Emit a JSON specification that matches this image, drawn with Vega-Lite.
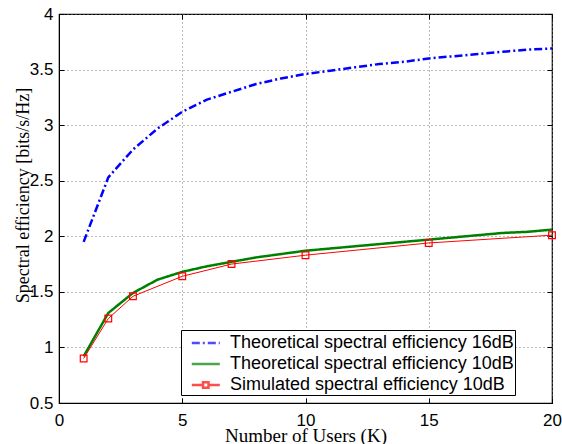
{
  "$schema": "https://vega.github.io/schema/vega-lite/v6.json",
  "width": 493,
  "height": 389,
  "autosize": "none",
  "padding": {"left": 59, "top": 14, "right": 10, "bottom": 41},
  "background": "white",
  "config": {
    "view": {"stroke": "black", "strokeWidth": 1.2},
    "axis": {
      "labelFont": "Liberation Sans",
      "labelFontSize": 17,
      "labelColor": "black",
      "titleFont": "Liberation Serif",
      "titleFontSize": 19,
      "titleFontWeight": "normal",
      "titleColor": "black",
      "domainColor": "black",
      "tickColor": "black",
      "gridColor": "#777777",
      "gridDash": [1, 3],
      "gridWidth": 1
    }
  },
  "data": {
    "values": [
      {"K": 1, "SE": 1.95, "series": "Theoretical spectral efficiency 16dB"},
      {"K": 2, "SE": 2.53, "series": "Theoretical spectral efficiency 16dB"},
      {"K": 3, "SE": 2.78, "series": "Theoretical spectral efficiency 16dB"},
      {"K": 4, "SE": 2.97, "series": "Theoretical spectral efficiency 16dB"},
      {"K": 5, "SE": 3.12, "series": "Theoretical spectral efficiency 16dB"},
      {"K": 6, "SE": 3.23, "series": "Theoretical spectral efficiency 16dB"},
      {"K": 7, "SE": 3.3, "series": "Theoretical spectral efficiency 16dB"},
      {"K": 8, "SE": 3.37, "series": "Theoretical spectral efficiency 16dB"},
      {"K": 9, "SE": 3.42, "series": "Theoretical spectral efficiency 16dB"},
      {"K": 10, "SE": 3.46, "series": "Theoretical spectral efficiency 16dB"},
      {"K": 11, "SE": 3.49, "series": "Theoretical spectral efficiency 16dB"},
      {"K": 12, "SE": 3.52, "series": "Theoretical spectral efficiency 16dB"},
      {"K": 13, "SE": 3.55, "series": "Theoretical spectral efficiency 16dB"},
      {"K": 14, "SE": 3.57, "series": "Theoretical spectral efficiency 16dB"},
      {"K": 15, "SE": 3.6, "series": "Theoretical spectral efficiency 16dB"},
      {"K": 16, "SE": 3.62, "series": "Theoretical spectral efficiency 16dB"},
      {"K": 17, "SE": 3.64, "series": "Theoretical spectral efficiency 16dB"},
      {"K": 18, "SE": 3.66, "series": "Theoretical spectral efficiency 16dB"},
      {"K": 19, "SE": 3.68, "series": "Theoretical spectral efficiency 16dB"},
      {"K": 20, "SE": 3.69, "series": "Theoretical spectral efficiency 16dB"},
      {"K": 1, "SE": 0.92, "series": "Theoretical spectral efficiency 10dB"},
      {"K": 2, "SE": 1.31, "series": "Theoretical spectral efficiency 10dB"},
      {"K": 3, "SE": 1.49, "series": "Theoretical spectral efficiency 10dB"},
      {"K": 4, "SE": 1.61, "series": "Theoretical spectral efficiency 10dB"},
      {"K": 5, "SE": 1.68, "series": "Theoretical spectral efficiency 10dB"},
      {"K": 6, "SE": 1.73, "series": "Theoretical spectral efficiency 10dB"},
      {"K": 7, "SE": 1.77, "series": "Theoretical spectral efficiency 10dB"},
      {"K": 8, "SE": 1.81, "series": "Theoretical spectral efficiency 10dB"},
      {"K": 9, "SE": 1.84, "series": "Theoretical spectral efficiency 10dB"},
      {"K": 10, "SE": 1.87, "series": "Theoretical spectral efficiency 10dB"},
      {"K": 11, "SE": 1.89, "series": "Theoretical spectral efficiency 10dB"},
      {"K": 12, "SE": 1.91, "series": "Theoretical spectral efficiency 10dB"},
      {"K": 13, "SE": 1.93, "series": "Theoretical spectral efficiency 10dB"},
      {"K": 14, "SE": 1.95, "series": "Theoretical spectral efficiency 10dB"},
      {"K": 15, "SE": 1.97, "series": "Theoretical spectral efficiency 10dB"},
      {"K": 16, "SE": 1.99, "series": "Theoretical spectral efficiency 10dB"},
      {"K": 17, "SE": 2.01, "series": "Theoretical spectral efficiency 10dB"},
      {"K": 18, "SE": 2.03, "series": "Theoretical spectral efficiency 10dB"},
      {"K": 19, "SE": 2.04, "series": "Theoretical spectral efficiency 10dB"},
      {"K": 20, "SE": 2.06, "series": "Theoretical spectral efficiency 10dB"},
      {"K": 1, "SE": 0.9, "series": "Simulated spectral efficiency 10dB"},
      {"K": 2, "SE": 1.26, "series": "Simulated spectral efficiency 10dB"},
      {"K": 3, "SE": 1.46, "series": "Simulated spectral efficiency 10dB"},
      {"K": 5, "SE": 1.64, "series": "Simulated spectral efficiency 10dB"},
      {"K": 7, "SE": 1.75, "series": "Simulated spectral efficiency 10dB"},
      {"K": 10, "SE": 1.83, "series": "Simulated spectral efficiency 10dB"},
      {"K": 15, "SE": 1.94, "series": "Simulated spectral efficiency 10dB"},
      {"K": 20, "SE": 2.01, "series": "Simulated spectral efficiency 10dB"}
    ]
  },
  "layer": [
    {
      "transform": [{"filter": "datum.series !== 'Simulated spectral efficiency 10dB'"}],
      "mark": {"type": "line", "clip": true, "strokeWidth": 2.5},
      "encoding": {
        "x": {
          "field": "K", "type": "quantitative",
          "scale": {"domain": [0, 20], "nice": false, "zero": false},
          "axis": {"values": [0, 5, 10, 15, 20], "title": "Number of Users (K)", "grid": true,
                   "tickSize": -5, "labelPadding": 14, "labelFlush": false, "titleFontSize": 19,
                   "titleBaseline": "alphabetic", "titleY": 38}
        },
        "y": {
          "field": "SE", "type": "quantitative",
          "scale": {"domain": [0.5, 4], "nice": false, "zero": false},
          "axis": {"values": [0.5, 1, 1.5, 2, 2.5, 3, 3.5, 4], "format": "~g", "title": "Spectral efficiency [bits/s/Hz]", "grid": true,
                   "tickSize": -5, "labelPadding": 11, "labelFlush": false, "titleFontSize": 18,
                   "titleBaseline": "bottom", "titleX": -27, "titleY": 181}
        },
        "color": {
          "field": "series", "type": "nominal",
          "scale": {
            "domain": ["Theoretical spectral efficiency 16dB", "Theoretical spectral efficiency 10dB", "Simulated spectral efficiency 10dB"],
            "range": ["#0000ff", "#008000", "#ff0000"]
          },
          "legend": {
            "title": null, "orient": "none", "legendX": 122, "legendY": 316,
            "strokeColor": "black", "fillColor": "white", "padding": 1,
            "labelFont": "Liberation Sans", "labelFontSize": 18, "labelColor": "black", "labelLimit": 500,
            "symbolSize": 441, "labelOffset": 24, "rowPadding": 0
          }
        },
        "strokeDash": {
          "field": "series", "type": "nominal",
          "scale": {
            "domain": ["Theoretical spectral efficiency 16dB", "Theoretical spectral efficiency 10dB", "Simulated spectral efficiency 10dB"],
            "range": [[8, 3, 2, 3], [1, 0], [1, 0]]
          }
        }
      }
    },
    {
      "transform": [{"filter": "datum.series === 'Simulated spectral efficiency 10dB'"}],
      "mark": {"type": "line", "clip": true, "strokeWidth": 1, "color": "#ff0000"},
      "encoding": {
        "x": {"field": "K", "type": "quantitative", "axis": null},
        "y": {"field": "SE", "type": "quantitative", "axis": null}
      }
    },
    {
      "transform": [{"filter": "datum.series === 'Simulated spectral efficiency 10dB'"}],
      "mark": {"type": "point", "shape": "square", "filled": false, "stroke": "#ff0000", "strokeWidth": 1.2, "size": 45, "opacity": 1},
      "encoding": {
        "x": {"field": "K", "type": "quantitative", "axis": null},
        "y": {"field": "SE", "type": "quantitative", "axis": null}
      }
    },
    {
      "transform": [{"filter": "false"}],
      "mark": {"type": "point", "filled": false},
      "encoding": {
        "x": {"field": "K", "type": "quantitative",
              "axis": {"orient": "top", "values": [0, 5, 10, 15, 20], "labels": false, "title": null, "grid": false, "tickSize": -5, "domain": false}},
        "y": {"field": "SE", "type": "quantitative",
              "axis": {"orient": "right", "values": [0.5, 1, 1.5, 2, 2.5, 3, 3.5, 4], "labels": false, "title": null, "grid": false, "tickSize": -5, "domain": false}},
        "shape": {
          "field": "series", "type": "nominal",
          "scale": {
            "domain": ["Theoretical spectral efficiency 16dB", "Theoretical spectral efficiency 10dB", "Simulated spectral efficiency 10dB"],
            "range": ["M-0.21,0H2.46", "M-0.21,0H2.46", "M-0.21,0H0.86M1.38,0H2.46M0.86,-0.26H1.38V0.26H0.86Z"]
          }
        },
        "color": {"field": "series", "type": "nominal"},
        "strokeDash": {"field": "series", "type": "nominal"},
        "strokeWidth": {
          "field": "series", "type": "ordinal",
          "scale": {
            "domain": ["Theoretical spectral efficiency 16dB", "Theoretical spectral efficiency 10dB", "Simulated spectral efficiency 10dB"],
            "range": [2.5, 2.5, 1]
          }
        }
      }
    }
  ],
  "resolve": {"axis": {"x": "independent", "y": "independent"}}
}
